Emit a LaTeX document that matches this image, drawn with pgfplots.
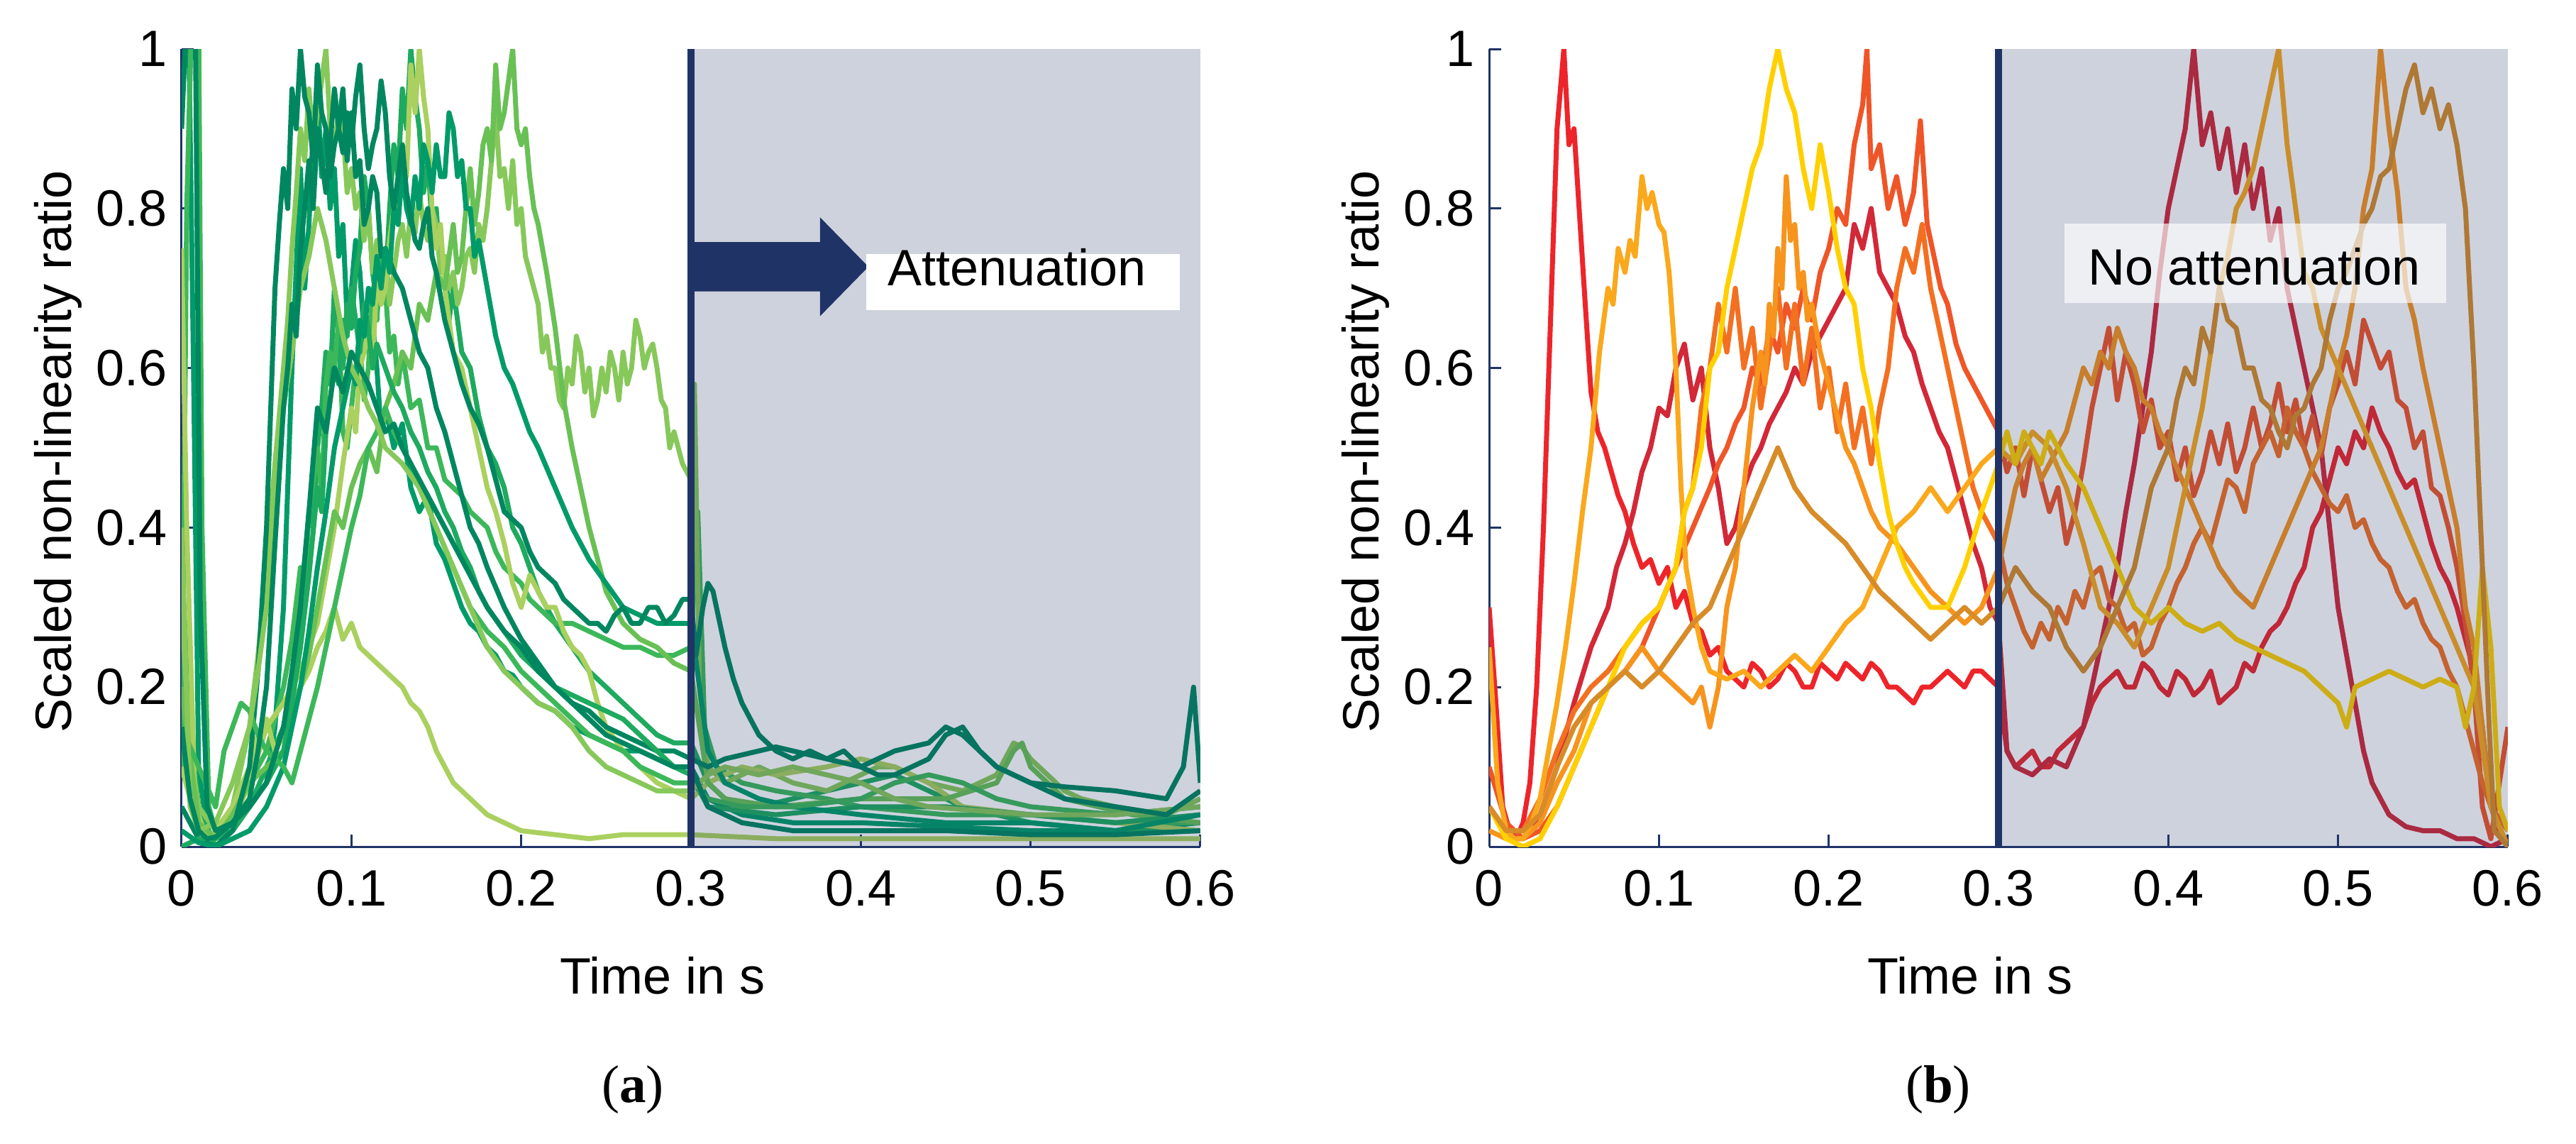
\documentclass[border=0pt]{standalone}
\usepackage{fontspec}
\setmainfont{Liberation Sans}
\newfontfamily\seriffont{Liberation Serif}
\usepackage{pgfplots}
\pgfplotsset{compat=1.18}
\newcommand{\fs}{\fontsize{14.4}{17}\selectfont}
\definecolor{navy}{RGB}{31,51,102}
\definecolor{ga}{RGB}{0,135,95}
\definecolor{gb}{RGB}{0,155,105}
\definecolor{gc}{RGB}{30,170,95}
\definecolor{gd}{RGB}{60,184,90}
\definecolor{ge}{RGB}{105,192,85}
\definecolor{gf}{RGB}{135,200,90}
\definecolor{gg}{RGB}{170,208,95}
\definecolor{ra}{RGB}{237,37,42}
\definecolor{rb}{RGB}{210,40,55}
\definecolor{oa}{RGB}{240,85,40}
\definecolor{ob}{RGB}{243,112,33}
\definecolor{oc}{RGB}{247,148,29}
\definecolor{od}{RGB}{250,168,28}
\definecolor{ya}{RGB}{255,208,0}
\definecolor{da}{RGB}{215,140,40}
\pgfplotsset{
  myaxis/.style={
    scale only axis, width=287.2pt, height=224.8pt,
    xmin=0, xmax=0.6, ymin=0, ymax=1,
    axis x line*=bottom, axis y line*=left,
    axis line style={navy, line width=0.6pt, -},
    xtick={0,0.1,0.2,0.3,0.4,0.5,0.6}, xticklabels={0,0.1,0.2,0.3,0.4,0.5,0.6},
    ytick={0,0.2,0.4,0.6,0.8,1}, yticklabels={0,0.2,0.4,0.6,0.8,1},
    tick align=inside, major tick length=3.4pt,
    tick style={navy, line width=0.6pt},
    /pgf/number format/assume math mode=true,
    ticklabel style={font=\fs},
    xticklabel style={yshift=-3.2pt},
    yticklabel style={xshift=-0.6pt},
    xlabel={Time in s}, ylabel={Scaled non-linearity ratio},
    every axis x label/.style={at={(axis description cs:0.472,-0.185)}, anchor=base, font=\fs},
    every axis y label/.style={at={(axis description cs:-0.1086,0.4955)}, anchor=base, rotate=90, font=\fs},
    every axis plot/.append style={line width=1.4pt, no markers, line join=round},
  }
}
\begin{document}
\begin{tikzpicture}
\path[use as bounding box] (0,0) rectangle (726.2pt,322.2pt);
% ---------------- panel (a)
\begin{axis}[myaxis, at={(51.2pt,83.6pt)}, anchor=south west]
\addplot[gb] coordinates {(0,1.05)(0.004,1.05)(0.007,0.6)(0.01,0.1)(0.015,0.02)(0.02,0.01)(0.03,0.02)(0.04,0.05)(0.05,0.08)(0.055,0.15)(0.06,0.3)(0.065,0.6)(0.07,0.85)(0.0725,0.7)(0.075,0.78)(0.0775,0.9)(0.08,0.95)(0.0825,0.84)(0.085,0.9)(0.0875,0.8)(0.09,0.85)(0.0925,0.74)(0.095,0.78)(0.0975,0.66)(0.1,0.7)(0.1025,0.76)(0.105,0.72)(0.1075,0.64)(0.11,0.62)(0.1125,0.66)(0.115,0.6)(0.1175,0.52)(0.12,0.55)(0.125,0.5)(0.13,0.53)(0.135,0.45)(0.14,0.42)(0.145,0.44)(0.15,0.38)(0.155,0.36)(0.16,0.33)(0.165,0.3)(0.17,0.28)(0.175,0.27)(0.18,0.25)(0.185,0.24)(0.19,0.22)(0.195,0.215)(0.2,0.2)(0.21,0.18)(0.22,0.17)(0.23,0.15)(0.24,0.14)(0.25,0.13)(0.26,0.12)(0.27,0.12)(0.28,0.11)(0.29,0.1)(0.3,0.1)(0.31,0.06)(0.33,0.04)(0.36,0.03)(0.4,0.03)(0.45,0.025)(0.5,0.02)(0.55,0.02)(0.6,0.03)};
\addplot[gc] coordinates {(0,0.35)(0.005,0.15)(0.01,0.05)(0.02,0.0)(0.03,0.02)(0.04,0.05)(0.05,0.1)(0.06,0.15)(0.065,0.2)(0.07,0.3)(0.0725,0.36)(0.075,0.42)(0.0775,0.4)(0.08,0.5)(0.0825,0.55)(0.085,0.62)(0.0875,0.58)(0.09,0.7)(0.0925,0.64)(0.095,0.6)(0.0975,0.68)(0.1,0.65)(0.1025,0.72)(0.105,0.75)(0.1075,0.84)(0.11,0.8)(0.1125,0.72)(0.115,0.68)(0.1175,0.75)(0.12,0.7)(0.1225,0.8)(0.125,0.88)(0.1275,0.84)(0.13,0.95)(0.1325,0.9)(0.135,1.0)(0.1375,0.94)(0.14,0.9)(0.1425,0.82)(0.145,0.86)(0.1475,0.78)(0.15,0.8)(0.1525,0.72)(0.155,0.74)(0.1575,0.66)(0.16,0.7)(0.165,0.62)(0.17,0.6)(0.175,0.54)(0.18,0.5)(0.185,0.48)(0.19,0.45)(0.195,0.4)(0.2,0.38)(0.205,0.35)(0.21,0.32)(0.215,0.3)(0.22,0.28)(0.23,0.25)(0.24,0.22)(0.25,0.2)(0.26,0.18)(0.27,0.16)(0.28,0.14)(0.29,0.13)(0.3,0.13)(0.31,0.08)(0.32,0.06)(0.34,0.05)(0.36,0.06)(0.38,0.07)(0.4,0.08)(0.42,0.09)(0.44,0.07)(0.46,0.05)(0.48,0.04)(0.5,0.03)(0.55,0.02)(0.6,0.02)};
\addplot[gd] coordinates {(0,0.1)(0.003,0.8)(0.006,1.05)(0.01,1.05)(0.012,0.4)(0.016,0.05)(0.02,0.02)(0.03,0.05)(0.04,0.08)(0.05,0.12)(0.06,0.2)(0.065,0.26)(0.07,0.35)(0.0725,0.32)(0.075,0.42)(0.0775,0.46)(0.08,0.5)(0.0825,0.44)(0.085,0.58)(0.0875,0.62)(0.09,0.6)(0.0925,0.66)(0.095,0.52)(0.0975,0.5)(0.1,0.55)(0.1025,0.6)(0.105,0.63)(0.1075,0.56)(0.11,0.6)(0.1125,0.7)(0.115,0.66)(0.1175,0.74)(0.12,0.7)(0.1225,0.62)(0.125,0.64)(0.1275,0.58)(0.13,0.62)(0.135,0.55)(0.14,0.56)(0.145,0.5)(0.15,0.5)(0.155,0.46)(0.16,0.45)(0.165,0.44)(0.17,0.42)(0.175,0.41)(0.18,0.4)(0.185,0.37)(0.19,0.35)(0.195,0.34)(0.2,0.33)(0.205,0.31)(0.21,0.3)(0.22,0.28)(0.23,0.28)(0.24,0.27)(0.25,0.26)(0.26,0.25)(0.27,0.25)(0.28,0.24)(0.29,0.24)(0.3,0.25)(0.304,0.42)(0.308,0.15)(0.315,0.1)(0.33,0.08)(0.35,0.07)(0.38,0.06)(0.4,0.05)(0.45,0.04)(0.5,0.04)(0.55,0.03)(0.6,0.03)};
\addplot[gf] coordinates {(0,0.3)(0.005,0.12)(0.01,0.05)(0.02,0.02)(0.03,0.05)(0.04,0.15)(0.045,0.24)(0.05,0.35)(0.055,0.48)(0.06,0.6)(0.0625,0.66)(0.065,0.75)(0.0675,0.82)(0.07,0.9)(0.0725,0.86)(0.075,0.95)(0.0775,0.88)(0.08,0.92)(0.0825,0.96)(0.085,1.0)(0.0875,0.9)(0.09,0.88)(0.0925,0.92)(0.095,0.9)(0.0975,0.82)(0.1,0.85)(0.1025,0.8)(0.105,0.82)(0.1075,0.76)(0.11,0.8)(0.1125,0.72)(0.115,0.76)(0.1175,0.74)(0.12,0.75)(0.1225,0.68)(0.125,0.72)(0.1275,0.76)(0.13,0.78)(0.1325,0.74)(0.135,0.8)(0.1375,0.77)(0.14,0.82)(0.1425,0.78)(0.145,0.76)(0.1475,0.8)(0.15,0.78)(0.1525,0.72)(0.155,0.74)(0.1575,0.7)(0.16,0.72)(0.1625,0.68)(0.165,0.7)(0.1675,0.74)(0.17,0.75)(0.1725,0.72)(0.175,0.78)(0.1775,0.76)(0.18,0.8)(0.1825,0.86)(0.185,0.92)(0.1875,0.84)(0.19,0.85)(0.1925,0.8)(0.195,0.86)(0.1975,0.78)(0.2,0.8)(0.2025,0.74)(0.205,0.72)(0.2075,0.7)(0.21,0.68)(0.2125,0.62)(0.215,0.64)(0.2175,0.6)(0.22,0.6)(0.2225,0.56)(0.225,0.55)(0.2275,0.6)(0.23,0.58)(0.2325,0.64)(0.235,0.62)(0.2375,0.57)(0.24,0.6)(0.2425,0.54)(0.245,0.56)(0.2475,0.6)(0.25,0.57)(0.2525,0.62)(0.255,0.6)(0.2575,0.56)(0.26,0.62)(0.2625,0.58)(0.265,0.6)(0.2675,0.66)(0.27,0.64)(0.2725,0.6)(0.275,0.62)(0.2775,0.63)(0.28,0.6)(0.2825,0.56)(0.285,0.55)(0.2875,0.5)(0.29,0.52)(0.2925,0.5)(0.295,0.48)(0.2975,0.47)(0.3,0.46)(0.302,0.58)(0.305,0.2)(0.31,0.1)(0.32,0.08)(0.33,0.09)(0.34,0.1)(0.35,0.09)(0.36,0.08)(0.37,0.075)(0.38,0.07)(0.39,0.08)(0.4,0.09)(0.41,0.1)(0.42,0.1)(0.43,0.09)(0.44,0.08)(0.45,0.075)(0.46,0.07)(0.47,0.08)(0.48,0.09)(0.485,0.11)(0.49,0.13)(0.495,0.125)(0.5,0.11)(0.51,0.09)(0.52,0.07)(0.53,0.06)(0.55,0.05)(0.58,0.04)(0.6,0.06)};
\addplot[gg] coordinates {(0,0.75)(0.003,0.4)(0.008,0.05)(0.015,0.01)(0.02,0.02)(0.03,0.05)(0.04,0.1)(0.045,0.14)(0.05,0.16)(0.055,0.12)(0.06,0.14)(0.065,0.18)(0.07,0.2)(0.075,0.22)(0.08,0.25)(0.085,0.27)(0.09,0.3)(0.095,0.26)(0.1,0.28)(0.105,0.25)(0.11,0.24)(0.115,0.23)(0.12,0.22)(0.125,0.21)(0.13,0.2)(0.135,0.18)(0.14,0.17)(0.145,0.15)(0.15,0.12)(0.155,0.1)(0.16,0.08)(0.17,0.06)(0.18,0.04)(0.19,0.03)(0.2,0.02)(0.22,0.015)(0.24,0.01)(0.26,0.015)(0.28,0.015)(0.3,0.015)(0.35,0.01)(0.4,0.01)(0.5,0.01)(0.6,0.01)};
\addplot[gg] coordinates {(0,0.1)(0.01,0.02)(0.02,0.01)(0.03,0.03)(0.04,0.08)(0.05,0.15)(0.06,0.18)(0.07,0.22)(0.08,0.28)(0.085,0.34)(0.09,0.4)(0.095,0.48)(0.1,0.55)(0.1025,0.52)(0.105,0.6)(0.1075,0.62)(0.11,0.65)(0.1125,0.6)(0.115,0.72)(0.1175,0.68)(0.12,0.7)(0.1225,0.76)(0.125,0.8)(0.1275,0.78)(0.13,0.88)(0.1325,0.84)(0.135,0.98)(0.1375,0.92)(0.14,1.0)(0.1425,0.94)(0.145,0.9)(0.1475,0.8)(0.15,0.75)(0.1525,0.78)(0.155,0.7)(0.1575,0.66)(0.16,0.62)(0.165,0.6)(0.17,0.55)(0.175,0.5)(0.18,0.45)(0.185,0.42)(0.19,0.38)(0.195,0.33)(0.2,0.3)(0.205,0.34)(0.21,0.32)(0.215,0.3)(0.22,0.3)(0.225,0.27)(0.23,0.25)(0.235,0.24)(0.24,0.22)(0.245,0.18)(0.25,0.15)(0.26,0.12)(0.27,0.1)(0.28,0.08)(0.29,0.07)(0.3,0.06)(0.31,0.08)(0.33,0.1)(0.35,0.09)(0.38,0.1)(0.4,0.11)(0.42,0.1)(0.44,0.08)(0.46,0.05)(0.5,0.04)(0.55,0.03)(0.6,0.02)};
\addplot[ge] coordinates {(0,0.2)(0.01,0.03)(0.02,0.01)(0.03,0.04)(0.04,0.08)(0.05,0.1)(0.06,0.12)(0.07,0.2)(0.075,0.24)(0.08,0.3)(0.085,0.36)(0.09,0.42)(0.095,0.4)(0.1,0.45)(0.105,0.48)(0.11,0.5)(0.115,0.47)(0.12,0.55)(0.125,0.58)(0.13,0.62)(0.135,0.6)(0.14,0.68)(0.145,0.66)(0.15,0.72)(0.155,0.7)(0.16,0.78)(0.1625,0.72)(0.165,0.74)(0.1675,0.8)(0.17,0.85)(0.1725,0.78)(0.175,0.82)(0.1775,0.88)(0.18,0.9)(0.1825,0.86)(0.185,0.98)(0.1875,0.9)(0.19,0.92)(0.1925,0.96)(0.195,1.0)(0.1975,0.9)(0.2,0.88)(0.2025,0.9)(0.205,0.84)(0.2075,0.8)(0.21,0.78)(0.215,0.72)(0.22,0.65)(0.225,0.56)(0.23,0.5)(0.235,0.45)(0.24,0.4)(0.245,0.36)(0.25,0.32)(0.26,0.28)(0.27,0.26)(0.28,0.25)(0.29,0.23)(0.3,0.22)(0.31,0.08)(0.32,0.06)(0.35,0.05)(0.4,0.06)(0.45,0.06)(0.48,0.08)(0.49,0.12)(0.495,0.13)(0.5,0.1)(0.52,0.06)(0.56,0.04)(0.6,0.03)};
\addplot[ga] coordinates {(0,0.05)(0.01,0.01)(0.02,0.0)(0.03,0.02)(0.04,0.1)(0.045,0.22)(0.05,0.4)(0.0525,0.55)(0.055,0.7)(0.0575,0.78)(0.06,0.85)(0.0625,0.8)(0.065,0.95)(0.0675,0.9)(0.07,1.0)(0.0725,0.94)(0.075,0.92)(0.0775,0.86)(0.08,0.98)(0.0825,0.92)(0.085,0.9)(0.0875,0.84)(0.09,0.88)(0.0925,0.9)(0.095,0.95)(0.0975,0.86)(0.1,0.92)(0.1025,0.84)(0.105,0.86)(0.1075,0.78)(0.11,0.8)(0.1125,0.84)(0.115,0.82)(0.1175,0.74)(0.12,0.75)(0.125,0.72)(0.13,0.7)(0.135,0.66)(0.14,0.62)(0.145,0.6)(0.15,0.55)(0.155,0.52)(0.16,0.48)(0.165,0.44)(0.17,0.4)(0.175,0.38)(0.18,0.35)(0.19,0.3)(0.2,0.26)(0.21,0.23)(0.22,0.2)(0.23,0.18)(0.24,0.17)(0.25,0.15)(0.26,0.14)(0.27,0.13)(0.28,0.12)(0.29,0.12)(0.3,0.11)(0.31,0.1)(0.32,0.11)(0.33,0.115)(0.34,0.12)(0.35,0.125)(0.36,0.12)(0.37,0.115)(0.38,0.11)(0.39,0.105)(0.4,0.1)(0.41,0.11)(0.42,0.12)(0.43,0.125)(0.44,0.13)(0.445,0.14)(0.45,0.15)(0.455,0.145)(0.46,0.14)(0.47,0.12)(0.48,0.1)(0.49,0.09)(0.5,0.08)(0.52,0.075)(0.55,0.07)(0.58,0.06)(0.59,0.1)(0.596,0.2)(0.6,0.08)};
\addplot[gc] coordinates {(0,0.0)(0.01,0.01)(0.02,0.01)(0.03,0.03)(0.04,0.05)(0.05,0.08)(0.06,0.12)(0.065,0.18)(0.07,0.25)(0.075,0.34)(0.08,0.45)(0.0825,0.42)(0.085,0.52)(0.0875,0.56)(0.09,0.6)(0.0925,0.58)(0.095,0.66)(0.0975,0.64)(0.1,0.7)(0.1025,0.66)(0.105,0.62)(0.1075,0.68)(0.11,0.65)(0.1125,0.6)(0.115,0.63)(0.12,0.6)(0.125,0.57)(0.13,0.55)(0.135,0.52)(0.14,0.5)(0.145,0.47)(0.15,0.45)(0.155,0.42)(0.16,0.4)(0.165,0.37)(0.17,0.35)(0.175,0.32)(0.18,0.3)(0.19,0.27)(0.2,0.24)(0.21,0.22)(0.22,0.2)(0.23,0.19)(0.24,0.18)(0.25,0.17)(0.26,0.16)(0.27,0.14)(0.28,0.12)(0.29,0.1)(0.3,0.09)(0.31,0.05)(0.35,0.04)(0.4,0.05)(0.45,0.05)(0.5,0.04)(0.55,0.03)(0.6,0.04)};
\addplot[gb] coordinates {(0,0.02)(0.01,0.005)(0.02,0.0)(0.03,0.01)(0.04,0.02)(0.05,0.05)(0.06,0.1)(0.07,0.2)(0.075,0.27)(0.08,0.35)(0.085,0.42)(0.09,0.5)(0.095,0.55)(0.1,0.6)(0.1025,0.58)(0.105,0.66)(0.1075,0.64)(0.11,0.7)(0.1125,0.68)(0.115,0.74)(0.1175,0.7)(0.12,0.75)(0.1225,0.72)(0.125,0.8)(0.1275,0.78)(0.13,0.85)(0.1325,0.8)(0.135,0.78)(0.1375,0.84)(0.14,0.8)(0.1425,0.88)(0.145,0.86)(0.1475,0.82)(0.15,0.88)(0.1525,0.84)(0.155,0.84)(0.1575,0.92)(0.16,0.9)(0.1625,0.84)(0.165,0.86)(0.1675,0.8)(0.17,0.8)(0.1725,0.74)(0.175,0.76)(0.18,0.7)(0.185,0.64)(0.19,0.6)(0.195,0.58)(0.2,0.55)(0.205,0.52)(0.21,0.5)(0.22,0.45)(0.23,0.4)(0.24,0.36)(0.25,0.33)(0.26,0.3)(0.27,0.29)(0.28,0.28)(0.29,0.28)(0.3,0.28)(0.31,0.12)(0.32,0.08)(0.34,0.06)(0.36,0.05)(0.4,0.04)(0.45,0.03)(0.5,0.03)(0.55,0.02)(0.6,0.04)};
\addplot[gd] coordinates {(0,0.15)(0.01,0.1)(0.02,0.05)(0.025,0.12)(0.03,0.15)(0.035,0.18)(0.04,0.17)(0.045,0.14)(0.05,0.12)(0.055,0.11)(0.06,0.1)(0.065,0.08)(0.07,0.12)(0.075,0.16)(0.08,0.2)(0.085,0.25)(0.09,0.3)(0.095,0.35)(0.1,0.4)(0.105,0.44)(0.11,0.5)(0.115,0.52)(0.12,0.55)(0.125,0.52)(0.13,0.5)(0.135,0.48)(0.14,0.45)(0.15,0.4)(0.16,0.35)(0.17,0.3)(0.18,0.27)(0.19,0.25)(0.2,0.22)(0.21,0.2)(0.22,0.18)(0.23,0.16)(0.24,0.14)(0.25,0.13)(0.26,0.12)(0.27,0.1)(0.28,0.09)(0.29,0.08)(0.3,0.08)(0.31,0.06)(0.33,0.05)(0.36,0.05)(0.4,0.06)(0.42,0.08)(0.44,0.09)(0.46,0.08)(0.48,0.06)(0.5,0.05)(0.55,0.04)(0.6,0.05)};
\addplot[gf] coordinates {(0,0.4)(0.005,0.05)(0.01,0.02)(0.02,0.03)(0.03,0.08)(0.04,0.15)(0.045,0.22)(0.05,0.3)(0.055,0.44)(0.06,0.55)(0.065,0.62)(0.07,0.7)(0.075,0.74)(0.08,0.8)(0.085,0.76)(0.09,0.7)(0.095,0.64)(0.1,0.6)(0.105,0.58)(0.11,0.55)(0.115,0.53)(0.12,0.5)(0.13,0.48)(0.14,0.45)(0.15,0.4)(0.16,0.35)(0.17,0.3)(0.18,0.25)(0.19,0.22)(0.2,0.2)(0.21,0.18)(0.22,0.17)(0.23,0.15)(0.24,0.12)(0.25,0.1)(0.26,0.09)(0.27,0.08)(0.28,0.07)(0.29,0.07)(0.3,0.07)(0.31,0.09)(0.32,0.1)(0.34,0.09)(0.36,0.1)(0.38,0.09)(0.4,0.08)(0.42,0.06)(0.44,0.05)(0.5,0.04)(0.55,0.04)(0.6,0.05)};
\addplot[ga] coordinates {(0,0.9)(0.003,1.05)(0.008,1.05)(0.011,0.3)(0.015,0.05)(0.02,0.02)(0.03,0.03)(0.04,0.05)(0.05,0.08)(0.06,0.15)(0.065,0.22)(0.07,0.3)(0.075,0.42)(0.08,0.55)(0.085,0.52)(0.09,0.6)(0.095,0.57)(0.1,0.62)(0.105,0.6)(0.11,0.58)(0.115,0.55)(0.12,0.52)(0.125,0.53)(0.13,0.5)(0.14,0.46)(0.15,0.42)(0.16,0.38)(0.17,0.34)(0.18,0.3)(0.19,0.27)(0.2,0.25)(0.21,0.22)(0.22,0.2)(0.23,0.18)(0.24,0.16)(0.25,0.14)(0.26,0.13)(0.27,0.12)(0.28,0.11)(0.29,0.1)(0.3,0.1)(0.31,0.05)(0.33,0.03)(0.36,0.02)(0.4,0.02)(0.45,0.02)(0.5,0.015)(0.55,0.015)(0.6,0.02)};
\addplot[ga] coordinates {(0,0.15)(0.005,0.06)(0.01,0.02)(0.015,0.01)(0.02,0.012)(0.03,0.03)(0.04,0.06)(0.045,0.12)(0.05,0.2)(0.055,0.38)(0.06,0.55)(0.0625,0.6)(0.065,0.68)(0.0675,0.64)(0.07,0.75)(0.0725,0.8)(0.075,0.86)(0.0775,0.8)(0.08,0.9)(0.0825,0.86)(0.085,0.82)(0.0875,0.88)(0.09,0.95)(0.0925,0.9)(0.095,0.87)(0.0975,0.92)(0.1,0.88)(0.1025,0.94)(0.105,0.98)(0.1075,0.9)(0.11,0.85)(0.1125,0.88)(0.115,0.9)(0.1175,0.96)(0.12,0.92)(0.1225,0.84)(0.125,0.8)(0.1275,0.84)(0.13,0.88)(0.1325,0.82)(0.135,0.79)(0.1375,0.76)(0.14,0.75)(0.1425,0.78)(0.145,0.8)(0.1475,0.74)(0.15,0.72)(0.155,0.66)(0.16,0.62)(0.165,0.58)(0.17,0.55)(0.175,0.53)(0.18,0.5)(0.185,0.46)(0.19,0.42)(0.195,0.41)(0.2,0.4)(0.205,0.37)(0.21,0.35)(0.215,0.34)(0.22,0.33)(0.225,0.31)(0.23,0.3)(0.235,0.29)(0.24,0.28)(0.245,0.28)(0.25,0.27)(0.255,0.29)(0.26,0.3)(0.265,0.28)(0.27,0.28)(0.275,0.3)(0.28,0.3)(0.285,0.28)(0.29,0.29)(0.295,0.31)(0.3,0.31)(0.303,0.24)(0.307,0.3)(0.31,0.33)(0.313,0.32)(0.316,0.29)(0.32,0.25)(0.325,0.21)(0.33,0.18)(0.335,0.16)(0.34,0.14)(0.35,0.12)(0.36,0.11)(0.37,0.12)(0.38,0.11)(0.39,0.12)(0.4,0.1)(0.41,0.09)(0.42,0.09)(0.43,0.1)(0.44,0.11)(0.45,0.14)(0.46,0.15)(0.47,0.12)(0.48,0.1)(0.5,0.08)(0.52,0.06)(0.55,0.05)(0.58,0.04)(0.6,0.07)};
\fill[navy, opacity=0.22] (axis cs:0.3,0) rectangle (axis cs:0.6,1);
\addplot[navy, line width=2pt] coordinates {(0.3,0) (0.3,1)};
\fill[navy] (axis cs:0.3,0.696) -- (axis cs:0.376,0.696) -- (axis cs:0.376,0.665) -- (axis cs:0.4045,0.727) -- (axis cs:0.376,0.789) -- (axis cs:0.376,0.758) -- (axis cs:0.3,0.758) -- cycle;
\fill[white] (axis cs:0.4032,0.6726) rectangle (axis cs:0.588,0.743);
\node[font=\fs, anchor=base, inner sep=0pt] at (axis cs:0.492,0.703) {Attenuation};
\end{axis}
% ---------------- panel (b)
\begin{axis}[myaxis, at={(419.8pt,83.6pt)}, anchor=south west]
\addplot[ra] coordinates {(0,0.3)(0.004,0.18)(0.008,0.05)(0.012,0.02)(0.016,0.01)(0.02,0.03)(0.024,0.08)(0.028,0.2)(0.032,0.4)(0.036,0.65)(0.04,0.9)(0.044,1.0)(0.047,0.88)(0.05,0.9)(0.053,0.8)(0.056,0.7)(0.06,0.57)(0.064,0.52)(0.068,0.5)(0.072,0.47)(0.076,0.44)(0.08,0.42)(0.085,0.38)(0.09,0.35)(0.095,0.36)(0.1,0.33)(0.105,0.35)(0.11,0.3)(0.115,0.32)(0.12,0.28)(0.125,0.27)(0.13,0.24)(0.135,0.25)(0.14,0.22)(0.145,0.21)(0.15,0.2)(0.155,0.23)(0.16,0.22)(0.165,0.2)(0.17,0.21)(0.175,0.23)(0.18,0.22)(0.185,0.2)(0.19,0.2)(0.195,0.23)(0.2,0.22)(0.205,0.21)(0.21,0.23)(0.215,0.22)(0.22,0.21)(0.225,0.23)(0.23,0.22)(0.235,0.2)(0.24,0.2)(0.245,0.19)(0.25,0.18)(0.255,0.2)(0.26,0.2)(0.265,0.21)(0.27,0.22)(0.275,0.21)(0.28,0.2)(0.285,0.22)(0.29,0.22)(0.295,0.21)(0.3,0.2)(0.305,0.12)(0.31,0.1)(0.315,0.11)(0.32,0.12)(0.325,0.1)(0.33,0.1)(0.335,0.12)(0.34,0.13)(0.345,0.14)(0.35,0.15)(0.355,0.18)(0.36,0.2)(0.365,0.21)(0.37,0.22)(0.375,0.2)(0.38,0.2)(0.385,0.23)(0.39,0.22)(0.395,0.2)(0.4,0.19)(0.405,0.22)(0.41,0.21)(0.415,0.19)(0.42,0.2)(0.425,0.22)(0.43,0.18)(0.435,0.19)(0.44,0.2)(0.445,0.23)(0.45,0.22)(0.455,0.25)(0.46,0.27)(0.465,0.28)(0.47,0.3)(0.475,0.33)(0.48,0.35)(0.485,0.4)(0.49,0.42)(0.495,0.46)(0.5,0.5)(0.505,0.48)(0.51,0.52)(0.515,0.5)(0.52,0.55)(0.525,0.52)(0.53,0.5)(0.535,0.47)(0.54,0.45)(0.545,0.46)(0.55,0.42)(0.555,0.38)(0.56,0.35)(0.565,0.33)(0.57,0.3)(0.575,0.26)(0.58,0.22)(0.585,0.15)(0.59,0.05)(0.595,0.02)(0.6,0.0)};
\addplot[rb] coordinates {(0,0.05)(0.01,0.02)(0.02,0.01)(0.03,0.04)(0.04,0.1)(0.05,0.18)(0.06,0.25)(0.07,0.3)(0.075,0.35)(0.08,0.38)(0.085,0.42)(0.09,0.47)(0.095,0.5)(0.1,0.55)(0.105,0.54)(0.11,0.6)(0.115,0.63)(0.12,0.56)(0.125,0.6)(0.13,0.5)(0.135,0.45)(0.14,0.38)(0.145,0.4)(0.15,0.45)(0.155,0.48)(0.16,0.5)(0.165,0.53)(0.17,0.55)(0.175,0.57)(0.18,0.6)(0.185,0.58)(0.19,0.62)(0.195,0.64)(0.2,0.66)(0.205,0.68)(0.21,0.7)(0.215,0.78)(0.22,0.75)(0.225,0.8)(0.23,0.72)(0.235,0.7)(0.24,0.68)(0.245,0.64)(0.25,0.62)(0.255,0.58)(0.26,0.55)(0.265,0.52)(0.27,0.5)(0.275,0.46)(0.28,0.42)(0.285,0.38)(0.29,0.35)(0.295,0.3)(0.3,0.28)(0.305,0.12)(0.31,0.1)(0.32,0.09)(0.33,0.11)(0.34,0.1)(0.35,0.15)(0.355,0.2)(0.36,0.25)(0.365,0.3)(0.37,0.35)(0.375,0.42)(0.38,0.48)(0.385,0.55)(0.39,0.62)(0.395,0.72)(0.4,0.8)(0.405,0.85)(0.41,0.9)(0.415,1.0)(0.42,0.88)(0.425,0.92)(0.43,0.85)(0.435,0.9)(0.44,0.82)(0.445,0.88)(0.45,0.8)(0.455,0.85)(0.46,0.76)(0.465,0.8)(0.47,0.7)(0.475,0.65)(0.48,0.6)(0.485,0.55)(0.49,0.5)(0.495,0.4)(0.5,0.3)(0.505,0.24)(0.51,0.18)(0.515,0.12)(0.52,0.08)(0.53,0.04)(0.54,0.025)(0.55,0.02)(0.56,0.02)(0.57,0.01)(0.58,0.01)(0.59,0.0)(0.6,0.01)};
\addplot[oa] coordinates {(0,0.1)(0.01,0.03)(0.02,0.01)(0.03,0.02)(0.04,0.05)(0.05,0.1)(0.06,0.15)(0.07,0.2)(0.08,0.22)(0.09,0.25)(0.1,0.3)(0.11,0.35)(0.12,0.4)(0.13,0.45)(0.135,0.48)(0.14,0.5)(0.145,0.53)(0.15,0.55)(0.155,0.6)(0.16,0.58)(0.165,0.65)(0.17,0.62)(0.175,0.68)(0.18,0.65)(0.185,0.7)(0.19,0.66)(0.195,0.72)(0.2,0.75)(0.205,0.8)(0.21,0.78)(0.215,0.88)(0.22,0.93)(0.2225,1.0)(0.225,0.85)(0.23,0.88)(0.235,0.8)(0.24,0.84)(0.245,0.78)(0.25,0.82)(0.254,0.91)(0.258,0.78)(0.262,0.74)(0.266,0.7)(0.27,0.68)(0.275,0.63)(0.28,0.6)(0.285,0.58)(0.29,0.56)(0.295,0.54)(0.3,0.52)(0.305,0.47)(0.31,0.5)(0.315,0.44)(0.32,0.5)(0.325,0.46)(0.33,0.42)(0.335,0.45)(0.34,0.38)(0.345,0.42)(0.35,0.48)(0.355,0.55)(0.36,0.6)(0.365,0.65)(0.37,0.56)(0.375,0.62)(0.38,0.58)(0.385,0.52)(0.39,0.56)(0.395,0.5)(0.4,0.52)(0.405,0.46)(0.41,0.5)(0.415,0.44)(0.42,0.47)(0.425,0.52)(0.43,0.48)(0.435,0.53)(0.44,0.47)(0.445,0.5)(0.45,0.55)(0.455,0.5)(0.46,0.53)(0.465,0.58)(0.47,0.52)(0.475,0.56)(0.48,0.5)(0.485,0.54)(0.49,0.49)(0.495,0.55)(0.5,0.58)(0.505,0.62)(0.51,0.58)(0.515,0.66)(0.52,0.63)(0.525,0.6)(0.53,0.62)(0.535,0.56)(0.54,0.55)(0.545,0.5)(0.55,0.52)(0.555,0.45)(0.56,0.44)(0.565,0.4)(0.57,0.35)(0.575,0.28)(0.58,0.2)(0.585,0.05)(0.59,0.01)(0.595,0.08)(0.6,0.15)};
\addplot[ob] coordinates {(0,0.05)(0.01,0.02)(0.02,0.02)(0.03,0.06)(0.04,0.12)(0.05,0.17)(0.06,0.2)(0.07,0.22)(0.08,0.25)(0.09,0.28)(0.1,0.3)(0.11,0.35)(0.115,0.42)(0.12,0.45)(0.125,0.55)(0.13,0.6)(0.135,0.68)(0.14,0.62)(0.145,0.7)(0.15,0.6)(0.155,0.65)(0.16,0.55)(0.165,0.62)(0.17,0.7)(0.175,0.6)(0.18,0.68)(0.185,0.58)(0.19,0.65)(0.195,0.55)(0.2,0.6)(0.205,0.52)(0.21,0.58)(0.215,0.5)(0.22,0.55)(0.225,0.48)(0.23,0.55)(0.235,0.6)(0.24,0.7)(0.245,0.75)(0.25,0.72)(0.255,0.78)(0.26,0.7)(0.265,0.65)(0.27,0.6)(0.275,0.55)(0.28,0.5)(0.285,0.45)(0.29,0.42)(0.295,0.4)(0.3,0.38)(0.305,0.33)(0.31,0.3)(0.315,0.27)(0.32,0.25)(0.325,0.28)(0.33,0.26)(0.335,0.3)(0.34,0.28)(0.345,0.32)(0.35,0.3)(0.355,0.34)(0.36,0.35)(0.365,0.31)(0.37,0.3)(0.375,0.27)(0.38,0.28)(0.385,0.24)(0.39,0.25)(0.395,0.28)(0.4,0.3)(0.405,0.33)(0.41,0.35)(0.415,0.38)(0.42,0.4)(0.425,0.38)(0.43,0.42)(0.435,0.46)(0.44,0.45)(0.445,0.42)(0.45,0.48)(0.455,0.5)(0.46,0.52)(0.465,0.49)(0.47,0.55)(0.475,0.52)(0.48,0.5)(0.485,0.47)(0.49,0.45)(0.495,0.43)(0.5,0.42)(0.505,0.44)(0.51,0.4)(0.515,0.41)(0.52,0.38)(0.525,0.36)(0.53,0.35)(0.535,0.32)(0.54,0.3)(0.545,0.31)(0.55,0.28)(0.555,0.26)(0.56,0.25)(0.565,0.22)(0.57,0.2)(0.575,0.16)(0.58,0.12)(0.585,0.08)(0.59,0.05)(0.6,0.02)};
\addplot[oc] coordinates {(0,0.02)(0.01,0.01)(0.02,0.01)(0.03,0.03)(0.04,0.08)(0.05,0.12)(0.06,0.18)(0.07,0.2)(0.08,0.22)(0.09,0.25)(0.1,0.22)(0.11,0.2)(0.12,0.18)(0.125,0.2)(0.13,0.15)(0.135,0.2)(0.14,0.3)(0.145,0.35)(0.15,0.45)(0.155,0.55)(0.16,0.62)(0.1625,0.58)(0.165,0.68)(0.1675,0.64)(0.17,0.75)(0.1725,0.7)(0.175,0.84)(0.1775,0.76)(0.18,0.78)(0.1825,0.7)(0.185,0.72)(0.1875,0.66)(0.19,0.68)(0.195,0.62)(0.2,0.58)(0.205,0.54)(0.21,0.5)(0.215,0.48)(0.22,0.45)(0.225,0.42)(0.23,0.4)(0.24,0.38)(0.25,0.35)(0.26,0.32)(0.27,0.3)(0.28,0.28)(0.29,0.3)(0.3,0.35)(0.305,0.4)(0.31,0.45)(0.315,0.48)(0.32,0.5)(0.325,0.46)(0.33,0.48)(0.335,0.5)(0.34,0.52)(0.345,0.56)(0.35,0.6)(0.355,0.58)(0.36,0.62)(0.365,0.6)(0.37,0.65)(0.375,0.62)(0.38,0.6)(0.385,0.56)(0.39,0.55)(0.395,0.52)(0.4,0.5)(0.41,0.45)(0.42,0.4)(0.43,0.35)(0.44,0.32)(0.45,0.3)(0.46,0.35)(0.47,0.4)(0.48,0.45)(0.49,0.5)(0.495,0.55)(0.5,0.6)(0.505,0.64)(0.51,0.7)(0.515,0.8)(0.52,0.85)(0.525,1.0)(0.53,0.9)(0.535,0.82)(0.54,0.7)(0.545,0.66)(0.55,0.6)(0.56,0.5)(0.57,0.4)(0.575,0.3)(0.58,0.25)(0.585,0.15)(0.59,0.05)(0.6,0.0)};
\addplot[od] coordinates {(0,0.25)(0.005,0.08)(0.01,0.02)(0.015,0.01)(0.02,0.01)(0.025,0.03)(0.03,0.06)(0.035,0.12)(0.04,0.18)(0.045,0.25)(0.05,0.33)(0.055,0.42)(0.06,0.5)(0.065,0.62)(0.07,0.7)(0.073,0.68)(0.076,0.75)(0.08,0.72)(0.083,0.76)(0.086,0.74)(0.09,0.84)(0.093,0.8)(0.096,0.82)(0.1,0.78)(0.103,0.77)(0.106,0.72)(0.11,0.6)(0.113,0.45)(0.116,0.35)(0.12,0.3)(0.125,0.25)(0.13,0.22)(0.14,0.21)(0.15,0.22)(0.16,0.2)(0.17,0.22)(0.18,0.24)(0.19,0.22)(0.2,0.25)(0.21,0.28)(0.22,0.3)(0.23,0.35)(0.24,0.4)(0.25,0.42)(0.26,0.45)(0.27,0.42)(0.28,0.45)(0.29,0.48)(0.3,0.5)(0.31,0.48)(0.32,0.52)(0.33,0.5)(0.34,0.45)(0.35,0.38)(0.36,0.3)(0.37,0.28)(0.38,0.25)(0.39,0.3)(0.4,0.35)(0.41,0.45)(0.415,0.5)(0.42,0.55)(0.425,0.62)(0.43,0.7)(0.435,0.74)(0.44,0.8)(0.445,0.82)(0.45,0.85)(0.455,0.9)(0.46,0.95)(0.465,1.0)(0.47,0.88)(0.475,0.8)(0.48,0.72)(0.485,0.7)(0.49,0.65)(0.5,0.6)(0.51,0.55)(0.52,0.5)(0.53,0.45)(0.54,0.4)(0.55,0.35)(0.56,0.3)(0.57,0.25)(0.58,0.2)(0.59,0.05)(0.6,0.0)};
\addplot[ya] coordinates {(0,0.05)(0.01,0.01)(0.02,0.0)(0.03,0.01)(0.04,0.05)(0.05,0.1)(0.06,0.15)(0.07,0.2)(0.08,0.25)(0.09,0.28)(0.1,0.3)(0.11,0.35)(0.115,0.42)(0.12,0.45)(0.125,0.5)(0.13,0.6)(0.135,0.62)(0.14,0.7)(0.145,0.75)(0.15,0.8)(0.155,0.85)(0.16,0.88)(0.165,0.95)(0.17,1.0)(0.175,0.95)(0.18,0.92)(0.185,0.85)(0.19,0.8)(0.195,0.88)(0.2,0.82)(0.205,0.75)(0.21,0.7)(0.215,0.68)(0.22,0.6)(0.225,0.55)(0.23,0.48)(0.235,0.42)(0.24,0.38)(0.245,0.35)(0.25,0.33)(0.26,0.3)(0.27,0.3)(0.28,0.35)(0.29,0.42)(0.3,0.48)(0.305,0.52)(0.31,0.48)(0.315,0.52)(0.32,0.5)(0.325,0.48)(0.33,0.52)(0.335,0.5)(0.34,0.48)(0.35,0.45)(0.36,0.4)(0.37,0.35)(0.38,0.3)(0.39,0.28)(0.4,0.3)(0.41,0.28)(0.42,0.27)(0.43,0.28)(0.44,0.26)(0.45,0.25)(0.46,0.24)(0.47,0.23)(0.48,0.22)(0.49,0.2)(0.5,0.18)(0.505,0.15)(0.51,0.2)(0.52,0.21)(0.53,0.22)(0.54,0.21)(0.55,0.2)(0.56,0.21)(0.57,0.2)(0.575,0.15)(0.58,0.2)(0.585,0.35)(0.59,0.25)(0.595,0.05)(0.6,0.02)};
\addplot[da] coordinates {(0,0.05)(0.01,0.02)(0.02,0.02)(0.03,0.04)(0.04,0.1)(0.05,0.15)(0.06,0.18)(0.07,0.2)(0.08,0.22)(0.09,0.2)(0.1,0.22)(0.11,0.25)(0.12,0.28)(0.13,0.3)(0.14,0.35)(0.15,0.4)(0.16,0.45)(0.17,0.5)(0.18,0.45)(0.19,0.42)(0.2,0.4)(0.21,0.38)(0.22,0.35)(0.23,0.32)(0.24,0.3)(0.25,0.28)(0.26,0.26)(0.27,0.28)(0.28,0.3)(0.29,0.28)(0.3,0.3)(0.31,0.35)(0.32,0.32)(0.33,0.3)(0.34,0.25)(0.35,0.22)(0.36,0.25)(0.37,0.3)(0.38,0.35)(0.39,0.45)(0.4,0.5)(0.405,0.56)(0.41,0.6)(0.415,0.58)(0.42,0.65)(0.425,0.62)(0.43,0.7)(0.435,0.66)(0.44,0.65)(0.445,0.6)(0.45,0.6)(0.455,0.56)(0.46,0.55)(0.465,0.52)(0.47,0.5)(0.475,0.54)(0.48,0.55)(0.485,0.58)(0.49,0.6)(0.495,0.66)(0.5,0.7)(0.505,0.72)(0.51,0.75)(0.515,0.78)(0.52,0.8)(0.525,0.84)(0.53,0.85)(0.535,0.9)(0.54,0.95)(0.545,0.98)(0.55,0.92)(0.555,0.95)(0.56,0.9)(0.565,0.93)(0.57,0.88)(0.575,0.8)(0.58,0.6)(0.583,0.45)(0.586,0.3)(0.589,0.15)(0.592,0.02)(0.6,0.0)};
\fill[navy, opacity=0.22] (axis cs:0.3,0) rectangle (axis cs:0.6,1);
\addplot[navy, line width=2pt] coordinates {(0.3,0) (0.3,1)};
\fill[white, opacity=0.65] (axis cs:0.339,0.6815) rectangle (axis cs:0.5636,0.781);
\node[font=\fs, anchor=base, inner sep=0pt] at (axis cs:0.4506,0.7046) {No attenuation};
\end{axis}
\node[anchor=base, font=\seriffont\fontsize{15}{18}\selectfont] at (178.4pt,11.6pt) {(\textbf{a})};
\node[anchor=base, font=\seriffont\fontsize{15}{18}\selectfont] at (546.4pt,11.6pt) {(\textbf{b})};
\end{tikzpicture}
\end{document}
